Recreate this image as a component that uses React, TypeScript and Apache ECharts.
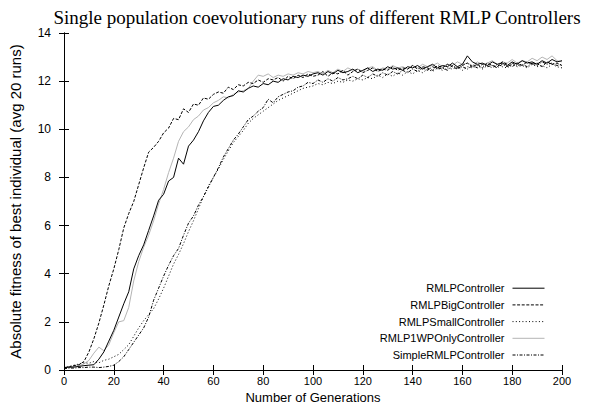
import React, { useEffect, useRef } from "react";
import * as echarts from "echarts";

const generations: number[] = Array.from({ length: 101 }, (_, i) => i * 2);

const rmlpController = [
  0.10, 0.12, 0.12, 0.15, 0.18, 0.20, 0.22, 0.45, 0.75, 1.20,
  1.65, 2.20, 2.75, 3.25, 4.20, 4.75, 5.20, 5.80, 6.40, 7.05,
  7.30, 7.85, 8.00, 8.80, 8.55, 9.30, 9.55, 9.90, 10.35, 10.70,
  10.95, 11.00, 11.20, 11.35, 11.40, 11.60, 11.55, 11.70, 11.80, 11.75,
  11.90, 11.85, 12.00, 11.95, 12.10, 12.05, 12.20, 12.15, 12.25, 12.20,
  12.30, 12.35, 12.25, 12.40, 12.30, 12.45, 12.35, 12.40, 12.50, 12.35,
  12.45, 12.55, 12.40, 12.50, 12.45, 12.60, 12.50, 12.55, 12.45, 12.60,
  12.55, 12.65, 12.50, 12.60, 12.70, 12.55, 12.65, 12.60, 12.75, 12.60,
  12.70, 13.05, 12.80, 12.70, 12.75, 12.65, 12.80, 12.70, 12.75, 12.65,
  12.80, 12.70, 12.85, 12.75, 12.80, 12.70, 12.85, 12.75, 12.90, 12.80,
  12.85,
];

const rmlpBigController = [
  0.10, 0.12, 0.18, 0.22, 0.35, 0.75, 1.30, 1.95, 2.70, 3.50,
  4.20, 5.00, 5.90, 6.50, 7.00, 7.70, 8.40, 9.05, 9.25, 9.50,
  9.85, 10.05, 10.45, 10.40, 10.85, 10.70, 11.05, 11.00, 11.30, 11.25,
  11.45, 11.55, 11.50, 11.75, 11.65, 11.85, 11.80, 11.95, 11.90, 12.05,
  11.95, 12.10, 12.05, 12.15, 12.00, 12.20, 12.10, 12.25, 12.15, 12.30,
  12.20, 12.25, 12.40, 12.20, 12.35, 12.30, 12.45, 12.25, 12.40, 12.50,
  12.35, 12.45, 12.55, 12.40, 12.50, 12.45, 12.60, 12.45, 12.55, 12.50,
  12.65, 12.50, 12.60, 12.55, 12.45, 12.65, 12.55, 12.70, 12.60, 12.50,
  12.65, 12.75, 12.60, 12.70, 12.55, 12.75, 12.65, 12.60, 12.80, 12.70,
  12.60, 12.75, 12.65, 12.80, 12.70, 12.75, 12.60, 12.80, 12.70, 12.75,
  12.65,
];

const rmlpSmallController = [
  0.10, 0.15, 0.20, 0.25, 0.30, 0.28, 0.35, 0.30, 0.40, 0.45,
  0.55, 0.65, 0.85, 1.05, 1.40, 1.75, 2.05, 2.30, 2.55, 2.95,
  3.40, 3.90, 4.40, 4.80, 5.25, 5.75, 6.20, 6.70, 7.20, 7.65,
  8.00, 8.35, 8.75, 9.10, 9.45, 9.70, 9.95, 10.25, 10.45, 10.60,
  10.75, 10.90, 11.05, 11.20, 11.30, 11.40, 11.50, 11.60, 11.70, 11.75,
  11.80, 11.90, 11.85, 11.95, 11.90, 12.00, 11.95, 12.05, 12.00, 12.10,
  12.05, 12.15, 12.10, 12.25, 12.15, 12.30, 12.20, 12.35, 12.25, 12.40,
  12.30, 12.45, 12.35, 12.50, 12.40, 12.55, 12.45, 12.55, 12.50, 12.60,
  12.45, 12.60, 12.55, 12.65, 12.50, 12.65, 12.55, 12.70, 12.60, 12.55,
  12.70, 12.60, 12.65, 12.55, 12.70, 12.60, 12.65, 12.55, 12.70, 12.60,
  12.55,
];

const rmlp1WPOnlyController = [
  0.10, 0.12, 0.15, 0.18, 0.25, 0.40, 0.70, 0.95, 0.80, 1.05,
  1.55, 2.00, 2.05, 2.60, 3.70, 4.50, 5.10, 5.60, 6.20, 6.90,
  7.50, 8.20, 8.80, 9.50, 9.90, 10.10, 10.40, 10.55, 10.80, 10.90,
  11.10, 11.20, 11.35, 11.30, 11.45, 11.55, 11.60, 11.70, 12.00, 12.25,
  12.20, 12.30, 12.15, 12.25, 12.20, 12.30, 12.25, 12.35, 12.30, 12.40,
  12.35, 12.40, 12.30, 12.45, 12.35, 12.50, 12.40, 12.55, 12.45, 12.50,
  12.40, 12.55, 12.60, 12.45, 12.55, 12.50, 12.65, 12.55, 12.60, 12.50,
  12.65, 12.55, 12.70, 12.60, 12.65, 12.75, 12.60, 12.70, 12.65, 12.80,
  12.70, 12.75, 12.65, 12.80, 12.70, 12.75, 12.85, 12.70, 12.80, 12.75,
  12.90, 12.75, 12.85, 12.80, 12.95, 12.85, 13.00, 12.90, 13.05, 12.85,
  12.80,
];

const simpleRMLPController = [
  0.05, 0.08, 0.08, 0.10, 0.10, 0.12, 0.12, 0.10, 0.12, 0.15,
  0.20, 0.35, 0.55, 0.85, 1.15, 1.45, 1.75, 2.20, 2.90, 3.40,
  3.90, 4.35, 4.75, 5.05, 5.60, 6.10, 6.40, 6.85, 7.20, 7.60,
  8.00, 8.40, 8.85, 9.20, 9.55, 9.80, 10.10, 10.40, 10.55, 10.75,
  10.90, 11.25, 11.10, 11.35, 11.45, 11.55, 11.60, 11.75, 11.80, 11.95,
  11.90, 12.05, 11.95, 12.10, 12.00, 12.15, 12.05, 12.10, 12.20, 12.10,
  12.25, 12.15, 12.30, 12.20, 12.35, 12.25, 12.40, 12.30, 12.45, 12.35,
  12.50, 12.40, 12.55, 12.45, 12.60, 12.50, 12.55, 12.45, 12.65, 12.55,
  12.60, 12.50, 12.65, 12.55, 12.70, 12.60, 12.65, 12.55, 12.70, 12.60,
  12.75, 12.65, 12.70, 12.60, 12.75, 12.65, 12.80, 12.70, 12.75, 12.65,
  12.70,
];

const seriesNames = [
  "RMLPController",
  "RMLPBigController",
  "RMLPSmallController",
  "RMLP1WPOnlyController",
  "SimpleRMLPController",
];

const xTicks = { min: 0, max: 200, interval: 20 };
const yTicks = { min: 0, max: 14, interval: 2 };

const FONT = "'Liberation Sans', Arial, Helvetica, sans-serif";

export default function App() {
  const ref = useRef<HTMLDivElement>(null);
  useEffect(() => {
    if (!ref.current) return;
    const chart = echarts.init(ref.current, undefined, { renderer: "svg" });
    const pair = (vals: number[]) => generations.map((g, i) => [g, vals[i]]);
    const styles: any[] = [
      { color: "#000", type: "solid" },
      { color: "#000", type: [3, 1.6] },
      { color: "#000", type: [1, 2.3] },
      { color: "#b4b4b4", type: "solid" },
      { color: "#000", type: [3, 1.5, 1, 1.5] },
    ];
    const allData = [
      rmlpController,
      rmlpBigController,
      rmlpSmallController,
      rmlp1WPOnlyController,
      simpleRMLPController,
    ];
    const axisCommon = {
      axisLine: { show: true, lineStyle: { color: "#000", width: 1 } },
      axisTick: { show: true, inside: true, length: 5, lineStyle: { color: "#000" } },
      splitLine: { show: false },
    };
    chart.setOption({
      animation: false,
      backgroundColor: "#fff",
      title: {
        text: "Single population coevolutionary runs of different RMLP Controllers",
        left: 312,
        textAlign: "center",
        top: 3,
        textStyle: {
          fontFamily: "'Liberation Serif', 'Times New Roman', serif",
          fontSize: 19,
          fontWeight: "normal",
          color: "#000",
        },
      },
      grid: { left: 59.5, right: 28, top: 33, bottom: 40 },
      legend: {
        orient: "vertical",
        right: 40,
        bottom: 44,
        align: "right",
        itemWidth: 32,
        itemHeight: 12,
        itemGap: 4.7,
        itemStyle: { opacity: 0 },
        lineStyle: { width: 1 },
        textStyle: {
          fontFamily: FONT,
          fontSize: 11,
          color: "#000",
          lineHeight: 12,
          padding: [0, 3, 0, 0],
        },
        data: seriesNames,
      },
      xAxis: [
        {
          type: "value",
          ...xTicks,
          position: "bottom",
          name: "Number of Generations",
          nameLocation: "middle",
          nameGap: 20,
          nameTextStyle: { fontFamily: FONT, fontSize: 13, color: "#000" },
          axisLabel: { fontFamily: FONT, fontSize: 11, color: "#000", margin: 5 },
          ...axisCommon,
        },
        {
          type: "value",
          ...xTicks,
          position: "top",
          axisLabel: { show: false },
          ...axisCommon,
        },
      ],
      yAxis: [
        {
          type: "value",
          ...yTicks,
          position: "left",
          name: "Absolute fitness of best individual (avg 20 runs)",
          nameLocation: "middle",
          nameGap: 41,
          nameTextStyle: { fontFamily: FONT, fontSize: 15, color: "#000" },
          axisLabel: { fontFamily: FONT, fontSize: 12, color: "#000", margin: 13 },
          ...axisCommon,
        },
        {
          type: "value",
          ...yTicks,
          position: "right",
          axisLabel: { show: false },
          ...axisCommon,
        },
      ],
      series: seriesNames.map((name, i) => ({
        name,
        type: "line",
        data: pair(allData[i]),
        showSymbol: false,
        symbol: "none",
        lineStyle: { width: 1, color: styles[i].color, type: styles[i].type },
        itemStyle: { color: styles[i].color },
        emphasis: { disabled: true },
        z: i === 3 ? 1 : 2,
      })),
    });
    return () => chart.dispose();
  }, []);
  return (
    <div
      ref={ref}
      style={{ position: "absolute", left: 0, top: 0, width: 590, height: 410 }}
    />
  );
}
